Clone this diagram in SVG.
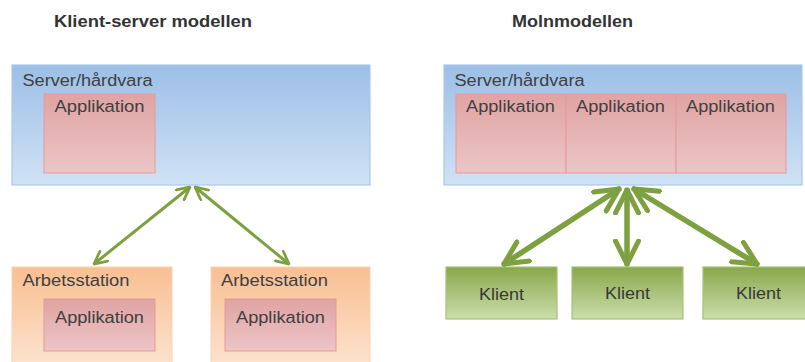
<svg xmlns="http://www.w3.org/2000/svg" width="805" height="362" viewBox="0 0 805 362">
<style>
text{font-family:"Liberation Sans",Arial,sans-serif;fill:#404040}
.title{font-size:16px;font-weight:bold;fill:#333}
.lbl{font-size:16px}
.kt{fill:#383838}
.srv{fill:url(#gSrv);stroke:#a9c8ec;stroke-width:1.2}
.app{fill:url(#gApp);stroke:#e59a9a;stroke-width:1}
.ws{fill:url(#gWs);stroke:#fbd3b3;stroke-width:1}
.kl{fill:url(#gKl);stroke:#a5c27a;stroke-width:1.2}
.c1{stroke:#7da041;stroke-width:3;fill:none;marker-start:url(#m1);marker-end:url(#m1)}
.c2{stroke:#7da041;stroke-width:5.5;fill:none;stroke-linecap:round;marker-start:url(#m2);marker-end:url(#m2)}
</style>
<defs>
<linearGradient id="gSrv" x1="0" y1="0" x2="0" y2="1"><stop offset="0" stop-color="#9cbfe6"/><stop offset="1" stop-color="#d0e2f5"/></linearGradient>
<linearGradient id="gApp" x1="0" y1="0" x2="0" y2="1"><stop offset="0" stop-color="#e0a3a3"/><stop offset="1" stop-color="#ecc6c6"/></linearGradient>
<linearGradient id="gWs" x1="0" y1="0" x2="0" y2="1"><stop offset="0" stop-color="#f8bf92"/><stop offset="1" stop-color="#fde3cf"/></linearGradient>
<linearGradient id="gKl" x1="0" y1="0" x2="0" y2="1"><stop offset="0" stop-color="#89a84a"/><stop offset="1" stop-color="#cbdeab"/></linearGradient>
<marker id="m1" viewBox="0 0 12 12" refX="11" refY="6" markerWidth="5" markerHeight="5" orient="auto-start-reverse" markerUnits="strokeWidth"><path d="M1,1 L11,6 L1,11" fill="none" stroke="#7da041" stroke-width="2.2" stroke-linecap="round"/></marker>
<marker id="m2" viewBox="0 0 12 12" refX="11" refY="6" markerWidth="5" markerHeight="5" orient="auto-start-reverse" markerUnits="strokeWidth"><path d="M1,1 L11,6 L1,11" fill="none" stroke="#7da041" stroke-width="2.2" stroke-linecap="round" stroke-linejoin="round"/></marker>
</defs>

<text class="title" x="54" y="26.5" textLength="198" lengthAdjust="spacingAndGlyphs">Klient-server modellen</text>
<text class="title" x="512" y="26.5" textLength="121" lengthAdjust="spacingAndGlyphs">Molnmodellen</text>

<g id="left-server">
<rect class="srv" x="12" y="65" width="358" height="120"/>
<text class="lbl" x="22.5" y="86" textLength="130" lengthAdjust="spacingAndGlyphs">Server/hårdvara</text>
</g>
<g id="left-server-app">
<rect class="app" x="44" y="94" width="111" height="79"/>
<text class="lbl" x="54.5" y="112" textLength="90" lengthAdjust="spacingAndGlyphs">Applikation</text>
</g>
<g id="ws1">
<rect class="ws" x="12" y="267" width="160" height="100"/>
<text class="lbl" x="22.5" y="286" textLength="107" lengthAdjust="spacingAndGlyphs">Arbetsstation</text>
</g>
<g id="ws1-app">
<rect class="app" x="44" y="299" width="111" height="52"/>
<text class="lbl" x="55" y="323" textLength="89" lengthAdjust="spacingAndGlyphs">Applikation</text>
</g>
<g id="ws2">
<rect class="ws" x="211" y="267" width="159" height="100"/>
<text class="lbl" x="221" y="286" textLength="107" lengthAdjust="spacingAndGlyphs">Arbetsstation</text>
</g>
<g id="ws2-app">
<rect class="app" x="225" y="299" width="111" height="52"/>
<text class="lbl" x="236" y="323" textLength="89" lengthAdjust="spacingAndGlyphs">Applikation</text>
</g>

<g id="right-server">
<rect class="srv" x="444" y="65" width="358" height="120"/>
<text class="lbl" x="454.5" y="86" textLength="130" lengthAdjust="spacingAndGlyphs">Server/hårdvara</text>
</g>
<g id="cloud-app1">
<rect class="app" x="456" y="94" width="110" height="79"/>
<text class="lbl" x="466" y="112" textLength="89" lengthAdjust="spacingAndGlyphs">Applikation</text>
</g>
<g id="cloud-app2">
<rect class="app" x="566" y="94" width="110" height="79"/>
<text class="lbl" x="576" y="112" textLength="89" lengthAdjust="spacingAndGlyphs">Applikation</text>
</g>
<g id="cloud-app3">
<rect class="app" x="676" y="94" width="110" height="79"/>
<text class="lbl" x="686" y="112" textLength="89" lengthAdjust="spacingAndGlyphs">Applikation</text>
</g>
<g id="klient1">
<rect class="kl" x="446" y="267" width="111" height="52"/>
<text class="lbl kt" x="479" y="300" textLength="45" lengthAdjust="spacingAndGlyphs">Klient</text>
</g>
<g id="klient2">
<rect class="kl" x="572" y="267" width="111" height="52"/>
<text class="lbl kt" x="605" y="299" textLength="45" lengthAdjust="spacingAndGlyphs">Klient</text>
</g>
<g id="klient3">
<rect class="kl" x="703" y="267" width="111" height="52"/>
<text class="lbl kt" x="736" y="299" textLength="45" lengthAdjust="spacingAndGlyphs">Klient</text>
</g>

<g id="connectors">
<line class="c1" x1="190" y1="187" x2="94" y2="264"/>
<line class="c1" x1="195" y1="187" x2="289" y2="264"/>
<line class="c2" x1="619" y1="189" x2="504" y2="264"/>
<line class="c2" x1="627" y1="190" x2="627" y2="264"/>
<line class="c2" x1="634" y1="189" x2="757" y2="264"/>
</g>
</svg>
